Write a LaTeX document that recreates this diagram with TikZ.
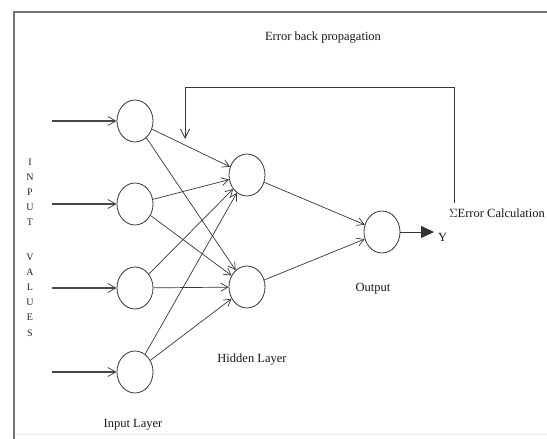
\documentclass[tikz,border=0pt]{standalone}
\usepackage{fontspec}
\setmainfont{Liberation Serif}
\usetikzlibrary{arrows.meta,shapes.geometric}
\begin{document}
\begin{tikzpicture}[x=1pt,y=-1pt,
  neuron/.style={ellipse,draw=black!78,line width=0.8pt,minimum width=36pt,minimum height=42pt,inner sep=0pt},
  lbl/.style={font=\fontsize{12.5}{14}\selectfont,text=black!90,inner sep=0pt},
  letter/.style={font=\fontsize{10}{12}\selectfont,text=black!85,inner sep=0pt},
  conn/.style={draw=black!78,line width=0.7pt,-{Straight Barb[length=7pt,width=8pt]}},
  inarrow/.style={draw=black!72,line width=1.3pt,-{Straight Barb[length=8pt,width=9pt,line width=0.8pt]}},
  frame/.style={draw=black!55,line width=1.6pt}]
\useasboundingbox (0,0) rectangle (547,439);
\fill[white] (0,0) rectangle (547,439);
% frame
\coordinate (fa) at (14,439);
\coordinate (fb) at (14,12);
\coordinate (fc) at (547,12);
\coordinate (fd) at (14,434);
\coordinate (fe) at (547,434);
\draw[draw=black!8,line width=0.6pt] (fd) -- (fe);
\draw[frame] (fa) -- (fb) -- (fc);
% nodes
\node[neuron] (i1) at (135,121) {};
\node[neuron] (i2) at (135,204) {};
\node[neuron] (i3) at (135,288) {};
\node[neuron] (i4) at (135,372) {};
\node[neuron] (h1) at (247,175) {};
\node[neuron] (h2) at (247,287) {};
\node[neuron] (o) at (382,232) {};
% input arrows
\foreach \k/\y in {1/121,2/204,3/288,4/372}{
  \coordinate (s\k) at (52,\y);
  \draw[inarrow] (s\k) -- (i\k);
}
% connections
\foreach \k in {1,2,3,4}{
  \draw[conn] (i\k) -- (h1);
  \draw[conn] (i\k) -- (h2);
}
\draw[conn] (h1) -- (o);
\draw[conn] (h2) -- (o);
% output arrow
\coordinate (yend) at (434,232);
\draw[draw=black!80,line width=0.8pt,-{Triangle[length=13pt,width=12pt]}] (o) -- (yend);
\node[lbl,anchor=west] (y) at (438,237) {Y};
% feedback
\node[lbl,anchor=west] (err) at (449,213) {$\Sigma$Error Calculation};
\coordinate (e1) at (454,203);
\coordinate (e2) at (454,87);
\coordinate (e3) at (185,87);
\coordinate (e4) at (185,139);
\draw[draw=black!78,line width=0.8pt,-{Straight Barb[length=9pt,width=9pt]}] (e1) -- (e2) -- (e3) -- (e4);
% labels
\node[lbl] (title) at (323,38) {Error back propagation};
\node[lbl] (il) at (133,425) {Input Layer};
\node[lbl] (hl) at (252,360) {Hidden Layer};
\node[lbl] (ol) at (373,289) {Output};
% vertical letters
\foreach \t/\y [count=\n] in {I/162,N/177,P/192,U/207,T/222,V/257,A/272,L/287,U/302,E/317,S/333}{
  \node[letter] (l\n) at (30,\y) {\t};
}
\end{tikzpicture}
\end{document}
